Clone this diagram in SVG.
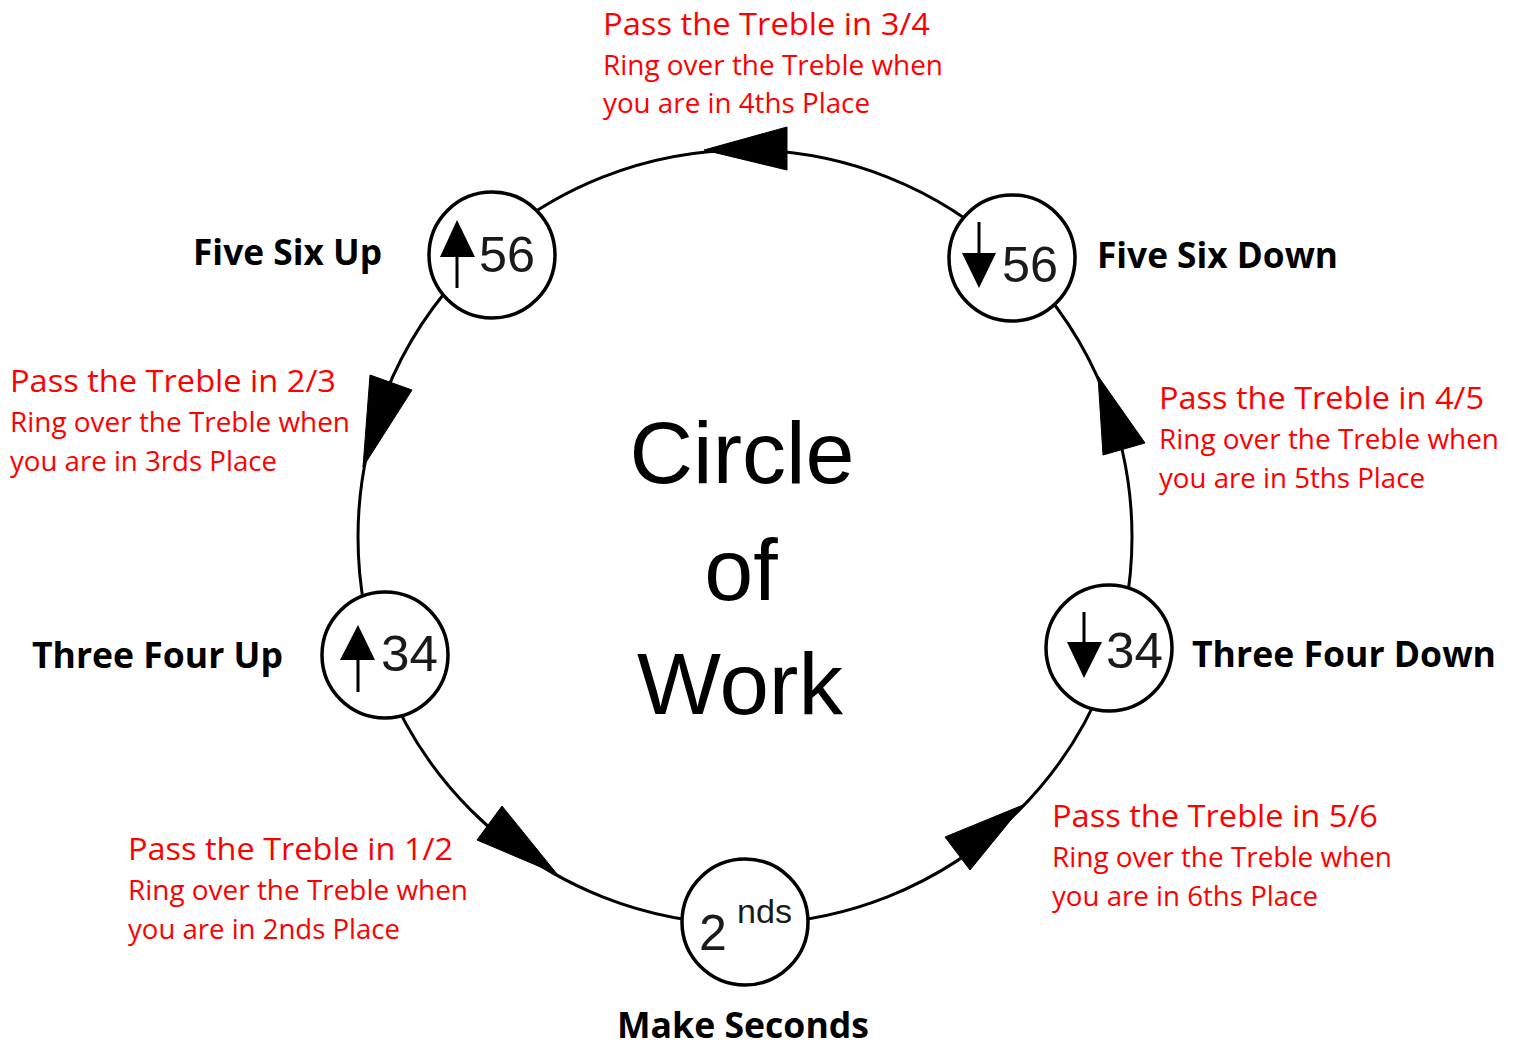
<svg xmlns="http://www.w3.org/2000/svg" width="1515" height="1048" viewBox="0 0 1515 1048">
<style>
.red1{font-family:"Open Sans","Noto Sans",sans-serif;font-size:31px;fill:#ff0000}
.red2{font-family:"Open Sans","Noto Sans",sans-serif;font-size:27px;fill:#ff0000}
.lbl{font-family:"Open Sans","Noto Sans",sans-serif;font-size:35px;font-weight:bold;fill:#000}
.num{font-family:"Liberation Sans",Arial,sans-serif;font-size:50px;fill:#1a1a1a}
.big{font-family:"Liberation Sans",Arial,sans-serif;font-size:88px;fill:#000;text-anchor:middle}
.node{fill:#fff;stroke:#000;stroke-width:3.5}
.ah{fill:#000;stroke:#000;stroke-width:1;stroke-linejoin:round}
</style>
<rect width="1515" height="1048" fill="#fff"/>
<g id="connectors">
<circle cx="745" cy="537" r="387" fill="none" stroke="#000" stroke-width="3"/>
<polygon class="ah" points="704,150 787,127 787,170"/>
<polygon class="ah" points="363,467 370,375 412,390"/>
<polygon class="ah" points="1098,376 1103,455 1145,443"/>
<polygon class="ah" points="557,874 477,840 502,806"/>
<polygon class="ah" points="1023,805 945,837 970,870"/>
</g>
<g id="center-title">
<text class="big" x="742" y="483" textLength="225" lengthAdjust="spacingAndGlyphs">Circle</text>
<text class="big" x="741" y="600">of</text>
<text class="big" x="740" y="714" textLength="206" lengthAdjust="spacingAndGlyphs">Work</text>
</g>
<g id="node-five-six-up">
<circle class="node" cx="492" cy="255" r="63"/>
<polygon points="457,220 440,257 475,257" fill="#000"/>
<rect x="455.5" y="255" width="3" height="33" fill="#000"/>
<text class="num" x="479" y="272" textLength="56" lengthAdjust="spacingAndGlyphs">56</text>
<text class="lbl" x="193" y="265" textLength="189" lengthAdjust="spacingAndGlyphs">Five Six Up</text>
</g>
<g id="node-five-six-down">
<circle class="node" cx="1012" cy="258" r="63"/>
<rect x="977.5" y="222" width="3" height="33" fill="#000"/>
<polygon points="979,288 962,253 996,253" fill="#000"/>
<text class="num" x="1002" y="282" textLength="56" lengthAdjust="spacingAndGlyphs">56</text>
<text class="lbl" x="1097" y="268" textLength="241" lengthAdjust="spacingAndGlyphs">Five Six Down</text>
</g>
<g id="node-three-four-up">
<circle class="node" cx="385" cy="655" r="63"/>
<polygon points="358,625 340,660 375,660" fill="#000"/>
<rect x="356.5" y="658" width="3" height="34" fill="#000"/>
<text class="num" x="381" y="671" textLength="57" lengthAdjust="spacingAndGlyphs">34</text>
<text class="lbl" x="32" y="668" textLength="251" lengthAdjust="spacingAndGlyphs">Three Four Up</text>
</g>
<g id="node-three-four-down">
<circle class="node" cx="1109" cy="648" r="63"/>
<rect x="1082.5" y="612" width="3" height="33" fill="#000"/>
<polygon points="1084,678 1067,642 1102,642" fill="#000"/>
<text class="num" x="1106" y="668" textLength="57" lengthAdjust="spacingAndGlyphs">34</text>
<text class="lbl" x="1192" y="667" textLength="304" lengthAdjust="spacingAndGlyphs">Three Four Down</text>
</g>
<g id="node-seconds">
<circle class="node" cx="745" cy="922" r="63"/>
<text class="num" x="699" y="950">2</text>
<text class="num" x="737" y="923" style="font-size:34px" textLength="55" lengthAdjust="spacingAndGlyphs">nds</text>
<text class="lbl" x="617" y="1038" textLength="252" lengthAdjust="spacingAndGlyphs">Make Seconds</text>
</g>
<g id="note-3-4">
<text class="red1" x="603" y="35" textLength="327" lengthAdjust="spacingAndGlyphs">Pass the Treble in 3/4</text>
<text class="red2" x="603" y="75" textLength="340" lengthAdjust="spacingAndGlyphs">Ring over the Treble when</text>
<text class="red2" x="603" y="113" textLength="267" lengthAdjust="spacingAndGlyphs">you are in 4ths Place</text>
</g>
<g id="note-2-3">
<text class="red1" x="10" y="392" textLength="326" lengthAdjust="spacingAndGlyphs">Pass the Treble in 2/3</text>
<text class="red2" x="10" y="432" textLength="340" lengthAdjust="spacingAndGlyphs">Ring over the Treble when</text>
<text class="red2" x="10" y="471" textLength="267" lengthAdjust="spacingAndGlyphs">you are in 3rds Place</text>
</g>
<g id="note-4-5">
<text class="red1" x="1159" y="409" textLength="325" lengthAdjust="spacingAndGlyphs">Pass the Treble in 4/5</text>
<text class="red2" x="1159" y="449" textLength="340" lengthAdjust="spacingAndGlyphs">Ring over the Treble when</text>
<text class="red2" x="1159" y="488" textLength="266" lengthAdjust="spacingAndGlyphs">you are in 5ths Place</text>
</g>
<g id="note-1-2">
<text class="red1" x="128" y="860" textLength="325" lengthAdjust="spacingAndGlyphs">Pass the Treble in 1/2</text>
<text class="red2" x="128" y="900" textLength="340" lengthAdjust="spacingAndGlyphs">Ring over the Treble when</text>
<text class="red2" x="128" y="939" textLength="272" lengthAdjust="spacingAndGlyphs">you are in 2nds Place</text>
</g>
<g id="note-5-6">
<text class="red1" x="1052" y="827" textLength="326" lengthAdjust="spacingAndGlyphs">Pass the Treble in 5/6</text>
<text class="red2" x="1052" y="867" textLength="340" lengthAdjust="spacingAndGlyphs">Ring over the Treble when</text>
<text class="red2" x="1052" y="906" textLength="266" lengthAdjust="spacingAndGlyphs">you are in 6ths Place</text>
</g>
</svg>
